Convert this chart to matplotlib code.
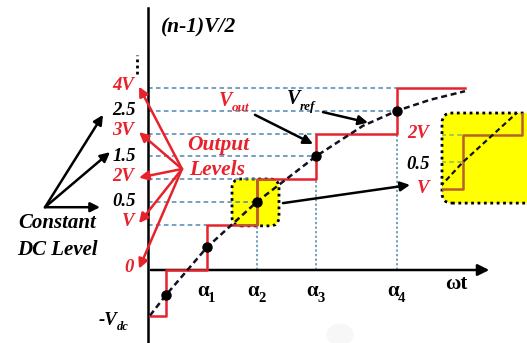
import matplotlib.pyplot as plt
from matplotlib.patches import FancyBboxPatch, Ellipse

plt.rcParams['font.family'] = ['Liberation Serif', 'DejaVu Serif']

RED = '#e8222c'
BROWN = '#b8602c'
GUIDE = '#4f86ad'
GREEN = '#8cb85a'

# switching instants (time axis) and output levels of the staircase
step_t = [150, 166, 207, 257, 316, 397, 465]
step_v = [-1, 0, 1, 2, 3, 4, 4]

# reference waveform
vref_t = [150, 166, 207, 257, 316, 363, 397, 430, 465]
vref_v = [-1.0, -0.55, 0.5, 1.5, 2.5, 3.17, 3.5, 3.74, 3.93]

# crossings of the reference with the constant dc levels
cross_t = [166, 207, 257, 316, 397]
cross_v = [-0.55, 0.5, 1.5, 2.5, 3.5]

# horizontal guides: level and where they stop
guide_v = [4, 3.5, 3, 2.5, 2, 1.5, 1]
guide_end = [397, 397, 316, 316, 257, 257, 207]

# vertical guides under alpha2..alpha4
alpha_t = [207, 257, 316, 397]
alpha_names = ['1', '2', '3', '4']
vguide_t = [257, 316, 397]
vguide_top = [1, 2, 3]

out_levels = [4, 3, 2, 1, 0]
out_names = ['4V', '3V', '2V', 'V', '0']
dc_levels = [3.5, 2.5, 1.5]
dc_names = ['2.5', '1.5', '0.5']
dc_tips = [(103, 3.41), (110, 2.59), (100, 1.38)]

T0 = 148
PX = 45.5  # pixels per level

fig = plt.figure(figsize=(5.27, 3.43), dpi=100)
ax = fig.add_axes([0, 0, 1, 1])
ax.set_xlim(0, 527)
ax.set_ylim(-(343 - 270) / PX, 270 / PX)
ax.axis('off')

font = dict(fontweight='bold', fontstyle='italic')
arrow_k = dict(arrowstyle='-|>', color='k', lw=1.8, mutation_scale=14, shrinkA=0, shrinkB=0)
arrow_r = dict(arrow_k, color=RED)


def sub_text(x, y, main, sub, color, size, subsize, style='italic', ha='left'):
    t = ax.text(x, y, main, color=color, fontsize=size, fontweight='bold',
                fontstyle=style, ha=ha, va='center')
    ax.annotate(sub, xy=(0.95, 0.12), xycoords=t, color=color, fontsize=subsize,
                fontweight='bold', fontstyle=style, ha='left', va='center')
    return t


# guides
for v, e in zip(guide_v, guide_end):
    ax.plot([T0, e], [v, v], color=GUIDE, lw=1.1, dashes=(3, 2.2), zorder=2)
for t, top in zip(vguide_t, vguide_top):
    ax.plot([t, t], [0, top], color=GUIDE, lw=1.1, dashes=(1.5, 1.5), zorder=2)

# small highlight box around alpha2
small_box = FancyBboxPatch((232, 0.97), 47, 1.03, boxstyle='round,pad=0,rounding_size=9',
                           mutation_aspect=1 / PX, fc='#ffff00', ec='k', lw=2,
                           ls=(0, (1, 1.3)), zorder=1.5)
ax.add_patch(small_box)

# axes
ax.plot([T0, T0], [-2, 262 / PX], color='k', lw=1.8, zorder=3)
ax.annotate('', xy=(492, 0), xytext=(T0, 0),
            arrowprops=dict(arrowstyle='-|>', color='k', lw=1.8, mutation_scale=17), zorder=3)
ax.plot([137, 137], [4.3, 4.72], color='k', lw=2, ls=(0, (1, 1.2)))

# output staircase and reference
ax.plot(step_t, step_v, drawstyle='steps-post', color=RED, lw=1.8, zorder=4)
inbox = ax.plot(step_t, step_v, drawstyle='steps-post', color=BROWN, lw=1.8, zorder=4.1)[0]
inbox.set_clip_path(small_box)
ax.plot(vref_t, vref_v, color='#111122', lw=1.8, dashes=(2.4, 1.5), zorder=5)
ax.plot(cross_t, cross_v, 'o', color='k', ms=6.5, zorder=6)

# big magnified box
big_box = FancyBboxPatch((442, 1.47), 110, 1.98, boxstyle='round,pad=0,rounding_size=10',
                         mutation_aspect=1 / PX, fc='#ffff00', ec='k', lw=2,
                         ls=(0, (1, 1.3)), zorder=1.5)
ax.add_patch(big_box)

axi = fig.add_axes([442 / 527, (343 - 203) / 343, 85 / 527, 90 / 343])
axi.set_xlim(236, 321)
axi.set_ylim(0.74, 2.41)
axi.axis('off')
axi.patch.set_alpha(0)
for v, e in zip(guide_v, guide_end):
    axi.plot([T0, e], [v, v], color=GREEN, lw=1.1, dashes=(3, 2.2))
axi.plot(step_t, step_v, drawstyle='steps-post', color=BROWN, lw=1.8)
axi.plot(vref_t, vref_v, color='#111122', lw=1.6, dashes=(2.4, 1.5))

# left-side labels
for v, name in zip(out_levels, out_names):
    ax.text(134, v + 0.06, name, color=RED, fontsize=13.5, ha='right', va='center', **font)
for v, name in zip(dc_levels, dc_names):
    ax.text(136, v, name, color='k', fontsize=13.5, ha='right', va='center', **font)
sub_text(99, -1.12, '-V', 'dc', 'k', 13.5, 9)

ax.text(57, 1.03, 'Constant', color='k', fontsize=15, ha='center', va='center', **font)
ax.text(57, 0.44, 'DC Level', color='k', fontsize=15, ha='center', va='center', **font)
for tip in dc_tips:
    ax.annotate('', xy=tip, xytext=(45, 1.38), arrowprops=arrow_k)

ax.text(218, 2.75, 'Output', color=RED, fontsize=15.5, ha='center', va='center', **font)
ax.text(217, 2.2, 'Levels', color=RED, fontsize=15.5, ha='center', va='center', **font)
for v in out_levels:
    ax.annotate('', xy=(139, v + 0.03), xytext=(182, 2.22), arrowprops=arrow_r)

ax.text(161, 5.34, '(n-1)V/2', color='k', fontsize=15.5, ha='left', va='center', **font)

# curve labels
sub_text(219, 3.72, 'V', 'out', RED, 14.5, 9.5)
sub_text(287, 3.76, 'V', 'ref', 'k', 14.5, 9.5)
ax.annotate('', xy=(313, 2.77), xytext=(255, 3.41), arrowprops=arrow_k)
ax.annotate('', xy=(368, 3.24), xytext=(323, 3.47), arrowprops=arrow_k)
ax.annotate('', xy=(410, 1.87), xytext=(283, 1.47), arrowprops=arrow_k)

# inset labels
ax.text(418, 3.01, '2V', color=RED, fontsize=13.5, ha='center', va='center', **font)
ax.text(418, 2.31, '0.5', color='k', fontsize=13.5, ha='center', va='center', **font)
ax.text(423, 1.80, 'V', color=RED, fontsize=13.5, ha='center', va='center', **font)

# time axis labels
for t, n in zip(alpha_t, alpha_names):
    sub_text(t - 4, -0.46, 'α', n, 'k', 15, 10.5, style='normal', ha='center')
ax.text(456, -0.3, 'ωt', color='k', fontsize=15, fontweight='bold', ha='center', va='center')

ax.add_patch(Ellipse((340, -1.42), 26, 0.45, color='#f7f7f7', zorder=0))

fig.savefig('out.png', dpi=100)
